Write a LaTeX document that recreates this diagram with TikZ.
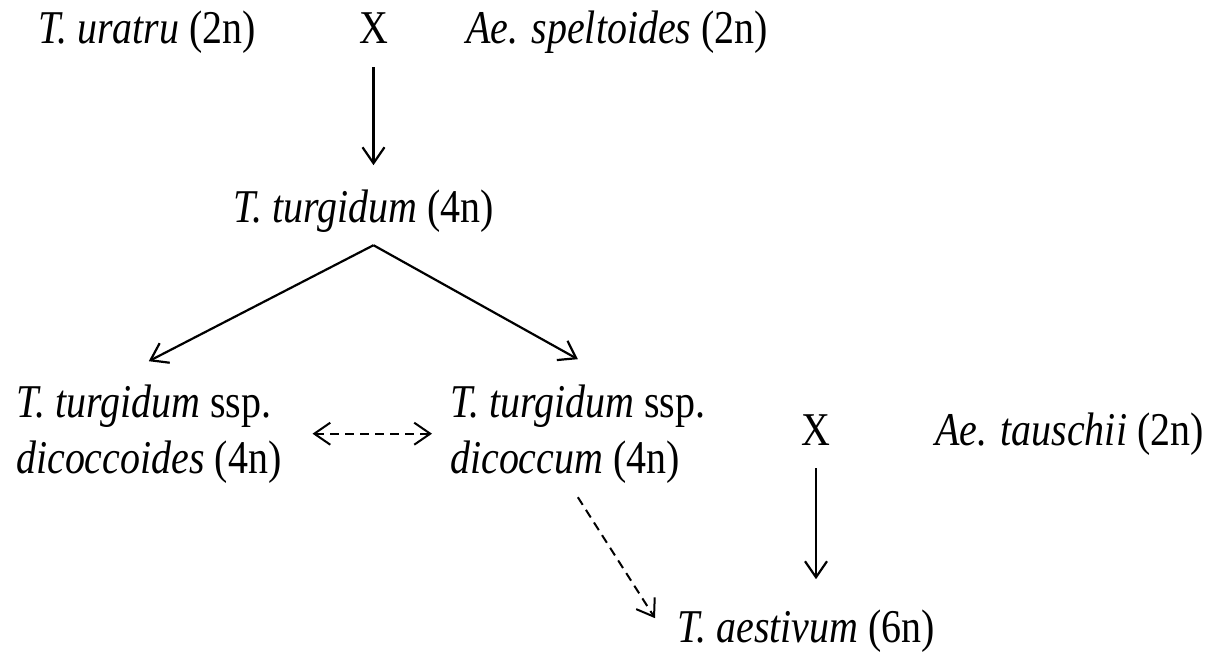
\documentclass[tikz,border=0pt]{standalone}
\usepackage{fontspec}
\setmainfont[FakeStretch=0.85]{Liberation Serif}
\usetikzlibrary{arrows.meta}

\begin{document}
\begin{tikzpicture}[x=1pt,y=-1pt,>={Straight Barb[length=16pt,width=22pt]},
    t/.style={inner sep=0pt,anchor=base west,align=left,font=\fontsize{47}{56}\selectfont},
    arr/.style={line width=2.2pt,->},
    darr/.style={arr,line width=2pt,dash pattern=on 9pt off 6pt}]
  \useasboundingbox (0,0) rectangle (1216,651);
  \node[t] (ura) at (38,43) {\textit{T. uratru} (2n)};
  \node[t,anchor=base] (x1) at (373.5,43) {X};
  \node[t] (spel) at (466,43) {\textit{Ae. speltoides} (2n)};
  \node[t] (turg) at (233,222) {\textit{T. turgidum} (4n)};
  % two-line nodes: base is the last line
  \node[t] (dcd) at (16,473) {\textit{T. turgidum} ssp.\\\textit{dicoccoides} (4n)};
  \node[t] (dcm) at (450,473) {\textit{T. turgidum} ssp.\\\textit{dicoccum} (4n)};
  \node[t,anchor=base] (x2) at (816,445) {X};
  \node[t] (tau) at (935,445) {\textit{Ae. tauschii} (2n)};
  \node[t] (aest) at (677,642) {\textit{T. aestivum} (6n)};
  \coordinate (fork) at ([yshift=-13pt]x1.south |- turg.south);
  \draw[arr] ([yshift=-24pt]x1.south) -- ([yshift=24pt]x1.south |- turg.north);
  \draw[arr] (fork) -- ([yshift=23pt]dcd.north);
  \draw[arr] (fork) -- ([yshift=25pt]dcm.north);
  \draw[darr,<->] ([xshift=31pt]dcd.east) -- ([xshift=-18pt]dcm.west);
  \draw[darr] ([yshift=-14pt]dcm.south) -- ([xshift=-22pt,yshift=-9pt]aest.north west);
  \draw[arr] ([yshift=-23pt]x2.south) -- ([yshift=30pt]x2.south |- aest.north);
\end{tikzpicture}
\end{document}
